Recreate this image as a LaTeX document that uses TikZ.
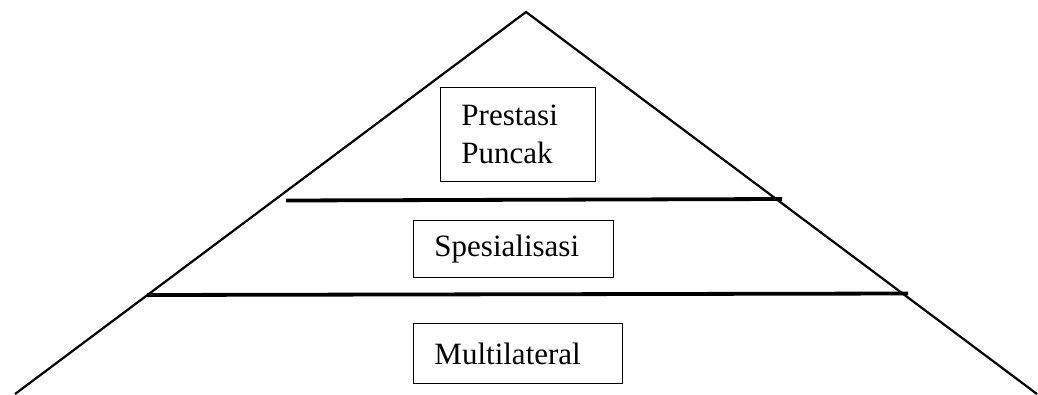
\documentclass[tikz,border=0pt]{standalone}
\usepackage{fontspec}
\setmainfont{Liberation Serif}
\usetikzlibrary{positioning}

\begin{document}
\begin{tikzpicture}[x=1pt, y=-1pt,
        every node/.style={draw, line width=0.9pt, anchor=north west, align=left, inner xsep=21pt, inner ysep=0pt, font=\fontsize{31}{38}\selectfont},
        sekat/.style={line width=3.8pt}
    ]
    \useasboundingbox (0,0) rectangle (1038,394);
    % pyramid outline
    \coordinate (puncak) at (526,12);
    \coordinate (kiri) at (15,394);
    \coordinate (kanan) at (1037,394);
    \draw[line width=2.2pt] (kiri) -- (puncak) -- (kanan);

    % level dividers
    \coordinate (atasKiri) at (286,200.5);
    \coordinate (atasKanan) at (782,199);
    \coordinate (bawahKiri) at (147,295);
    \coordinate (bawahKanan) at (908,293.5);
    \draw[sekat] (atasKiri) -- (atasKanan);
    \draw[sekat] (bawahKiri) -- (bawahKanan);

    \node (prestasi) [text width=113pt, minimum height=94pt] at (440,87) {Prestasi\\Puncak};
    \node (spesialisasi) [text width=158pt, minimum height=57pt] at (413,220) {Spesialisasi};
    \node (multilateral) [text width=167pt, minimum height=60pt] at (413,323) {Multilateral};
\end{tikzpicture}
\end{document}
